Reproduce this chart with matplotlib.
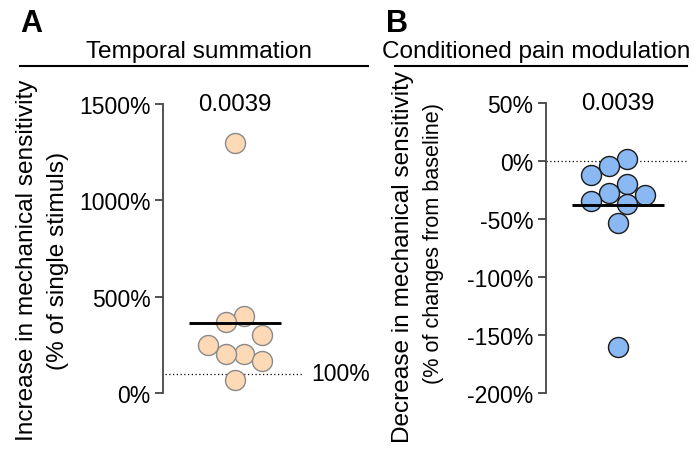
import matplotlib
matplotlib.use('Agg')
import matplotlib.pyplot as plt
import numpy as np
from matplotlib.lines import Line2D

plt.rcParams['font.family'] = ['Liberation Sans', 'DejaVu Sans']

# ---------------- data ----------------
panel_letters = ['A', 'B']
panel_titles = ['Temporal summation', 'Conditioned pain modulation']
ts_values = [1300, 398, 367, 201, 201, 249, 301, 166, 69]              # % of single stimulus
cpm_values = [2, -4, -12, -20, -27.6, -34, -29.3, -36.8, -53.4, -160]  # % change from baseline
ts_ticks = [0, 500, 1000, 1500]
cpm_ticks = [-200, -150, -100, -50, 0, 50]
ts_ref = 100
cpm_ref = 0
p_values = ['0.0039', '0.0039']
ts_ylabel = ['Increase in mechanical sensitivity', '(% of single stimuls)']
cpm_ylabel = ['Decrease in mechanical sensitivity', '(% of changes from baseline)']

# ---------------- figure ----------------
W, H = 700, 452
DPI = 100
fig = plt.figure(figsize=(W / DPI, H / DPI), dpi=DPI)


def px_box(l, r, top, bottom):
    return [l / W, 1 - bottom / H, (r - l) / W, (bottom - top) / H]


def swarm_x(ax, values, step=9.15, diam=19.0, iso=18.0):
    """Column scatter layout (display pixels, data order): isolated points sit
    on the centre line; the others take the first column (+1, -1, -3, +3, +5,
    -5 ... half-diameters) where no earlier point of that column is closer
    than one symbol diameter vertically."""
    vals = np.asarray(values, dtype=float)
    yd = ax.transData.transform(np.column_stack([np.zeros(len(vals)), vals]))[:, 1]
    cands = []
    for j, k in enumerate(range(1, 40, 2)):
        cands += [k, -k] if j % 2 == 0 else [-k, k]
    placed = []
    slots = np.zeros(len(vals))
    for i in range(len(vals)):
        others = np.delete(yd, i)
        if len(others) == 0 or np.min(np.abs(others - yd[i])) >= iso:
            c = 0
        else:
            for c in cands:
                if all(not (pc == c and abs(yd[i] - py) < diam) for pc, py in placed):
                    break
        slots[i] = c
        placed.append((c, yd[i]))
    x0 = ax.transData.transform((0, 0))[0]
    return ax.transData.inverted().transform(np.column_stack([x0 + slots * step, yd]))[:, 0]


def style_axis(ax, ticks):
    for s in ['top', 'right', 'bottom']:
        ax.spines[s].set_visible(False)
    ax.spines['left'].set_color('#444444')
    ax.spines['left'].set_linewidth(1.3)
    ax.set_xticks([])
    ax.set_yticks(ticks)
    ax.set_yticklabels([f"{int(t)}%" for t in ticks])
    ax.tick_params(axis='y', length=6, width=1.3, color='#444444', pad=3,
                   labelsize=16.5, labelcolor='black')


axA = fig.add_axes(px_box(163, 302, 105, 394))
axB = fig.add_axes(px_box(546, 687, 104.3, 394))

# Panel A
axA.set_xlim(-72, 67)
axA.set_ylim(min(ts_ticks), max(ts_ticks))
style_axis(axA, ts_ticks)
xa = swarm_x(axA, ts_values)
axA.axhline(ts_ref, xmin=0.015, xmax=1, color='black', lw=0.9, ls=(0, (1, 2)), zorder=1)
axA.scatter(xa, ts_values, s=14.4 ** 2, facecolor='#fdd9b5', edgecolor='#8a8a8a',
            linewidths=1.0, zorder=3, clip_on=False)
axA.hlines(np.mean(ts_values), -46, 46, color='black', lw=2.1, zorder=4)
axA.annotate(f"{ts_ref}%", xy=(1, ts_ref), xycoords=('axes fraction', 'data'),
             xytext=(9, 0), textcoords='offset pixels', ha='left', va='center', fontsize=16.5)
axA.text(0, max(ts_ticks), p_values[0], ha='center', va='center', fontsize=17.3)

# Panel B
axB.set_xlim(-72, 69)
axB.set_ylim(min(cpm_ticks), max(cpm_ticks))
style_axis(axB, cpm_ticks)
xb = swarm_x(axB, cpm_values)
axB.axhline(cpm_ref, xmin=0.0, xmax=1, color='black', lw=0.9, ls=(0, (1, 2)), zorder=1)
axB.scatter(xb, cpm_values, s=14.4 ** 2, facecolor='#8ab8f2', edgecolor='#1a1a1a',
            linewidths=1.0, zorder=3, clip_on=False)
axB.hlines(np.mean(cpm_values), -46, 46, color='black', lw=2.1, zorder=4)
axB.text(0, max(cpm_ticks), p_values[1], ha='center', va='center', fontsize=17.3)

# Panel letters, titles, rules
fig.text(20 / W, 1 - 32 / H, panel_letters[0], fontsize=22, fontweight='bold', ha='left', va='baseline')
fig.text(386 / W, 1 - 32 / H, panel_letters[1], fontsize=22, fontweight='bold', ha='left', va='baseline')
fig.text(198.5 / W, 1 - 58 / H, panel_titles[0], fontsize=17.6, ha='center', va='baseline')
fig.text(536.5 / W, 1 - 58 / H, panel_titles[1], fontsize=17.6, ha='center', va='baseline')
fig.add_artist(Line2D([20 / W, 368 / W], [1 - 67 / H, 1 - 67 / H], color='black', lw=1.5))
fig.add_artist(Line2D([395 / W, 687 / W], [1 - 67 / H, 1 - 67 / H], color='black', lw=1.5))

# Y labels (two lines each)
fig.text(27 / W, 1 - 260 / H, ts_ylabel[0], rotation=90, ha='center', va='center', fontsize=17.6)
fig.text(58 / W, 1 - 261 / H, ts_ylabel[1], rotation=90, ha='center', va='center', fontsize=17.6)
fig.text(403 / W, 1 - 257 / H, cpm_ylabel[0], rotation=90, ha='center', va='center', fontsize=17.6)
fig.text(433 / W, 1 - 244 / H, cpm_ylabel[1], rotation=90, ha='center', va='center', fontsize=15.6)

fig.savefig('out.png', dpi=DPI)
